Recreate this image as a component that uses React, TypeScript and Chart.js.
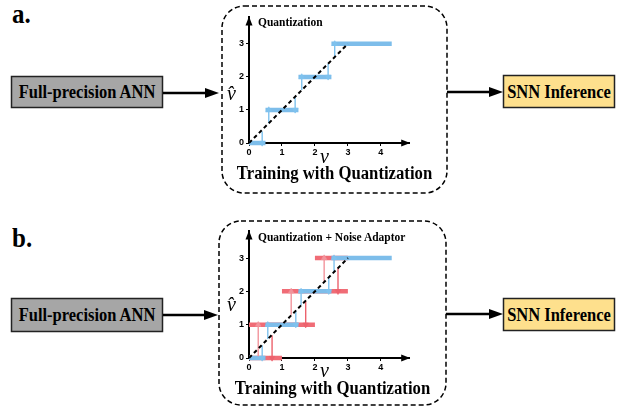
import React, { useEffect, useRef } from "react";
import { Chart, registerables } from "chart.js";

Chart.register(...registerables);

// ---------- data ----------
const xTicks = [0, 1, 2, 3, 4];
const yTicks = [0, 1, 2, 3];
const xMax = 4.86;
const yMax = 3.8;
const diagonal = [
  { x: 0, y: 0 },
  { x: 3, y: 3 },
];
// [level, from x, to x]
const blueSteps = [
  [0, 0, 0.5],
  [1, 0.5, 1.5],
  [2, 1.5, 2.5],
  [3, 2.5, 4.33],
];
const redSteps = [
  [0, 0, 1],
  [1, 0, 2],
  [2, 1, 3],
  [3, 2, 3],
];
// [x, from y, to y]
const blueArrowsA = [
  [0.4, 0.35, 0],
  [0.6, 0.6, 1],
  [1.4, 1.4, 1],
  [1.6, 1.6, 2],
  [2.4, 2.4, 2],
  [2.6, 2.6, 3],
];
const blueArrowsB = [
  [0.4, 0.38, 0],
  [0.57, 0.57, 1],
  [1.42, 1.42, 1],
  [1.58, 1.58, 2],
  [2.42, 2.42, 2],
  [2.58, 2.58, 3],
];
const redUpArrowsB = [
  [0.28, 0.05, 1],
  [1.28, 1.3, 2],
  [2.28, 2.3, 3],
];
const redDownArrowsB = [
  [0.7, 0.68, 0],
  [1.72, 1.7, 1],
  [2.7, 2.7, 2],
];

const titleA = "Quantization";
const titleB = "Quantization +  Noise Adaptor";
const bottomTitle = "Training with Quantization";
const leftLabel = "Full-precision ANN";
const rightLabel = "SNN Inference";

// ---------- colours ----------
const BLUE = "#7dbdea";
const BLUE_ARROW = "#7fc2ee";
const RED = "#f06c76";
const RED_UP = "#f2949c";
const RED_DOWN = "#ec626d";

function stepDs(s: number[], color: string, order: number) {
  return {
    data: [
      { x: s[1], y: s[0] },
      { x: s[2], y: s[0] },
    ],
    borderColor: color,
    backgroundColor: color,
    borderWidth: 4.5,
    borderCapStyle: "butt",
    pointRadius: 0,
    clip: false,
    order,
  };
}

function arrowDs(a: number[], color: string) {
  const up = a[2] > a[1];
  return {
    data: [
      { x: a[0], y: a[1] },
      { x: a[0], y: a[2] },
    ],
    borderColor: color,
    backgroundColor: color,
    borderWidth: 1.4,
    pointRadius: [0, 3.2],
    pointHoverRadius: 0,
    pointStyle: "triangle",
    pointRotation: up ? 0 : 180,
    pointBackgroundColor: color,
    pointBorderColor: color,
    pointBorderWidth: 0.6,
    clip: false,
    order: 1,
  };
}

function diagDs() {
  return {
    data: diagonal,
    borderColor: "#000",
    borderWidth: 2,
    borderDash: [4, 3],
    pointRadius: 0,
    clip: false,
    order: 0,
  };
}

const axisArrows = {
  id: "axisArrows",
  afterDraw(chart: any) {
    const { ctx, chartArea } = chart;
    const { left, top, right, bottom } = chartArea;
    ctx.save();
    ctx.fillStyle = "#000";
    ctx.beginPath();
    ctx.moveTo(left, top - 1);
    ctx.lineTo(left - 3.5, top + 8);
    ctx.lineTo(left + 3.5, top + 8);
    ctx.closePath();
    ctx.fill();
    ctx.beginPath();
    ctx.moveTo(right + 1, bottom);
    ctx.lineTo(right - 8, bottom - 3.5);
    ctx.lineTo(right - 8, bottom + 3.5);
    ctx.closePath();
    ctx.fill();
    ctx.restore();
  },
};

const tickFont = { family: "'Liberation Sans', Arial, sans-serif", size: 9, weight: "bold" as const };

function makeOptions() {
  return {
    animation: false,
    responsive: false,
    maintainAspectRatio: false,
    events: [],
    layout: { padding: 0 },
    plugins: { legend: { display: false }, tooltip: { enabled: false } },
    scales: {
      x: {
        type: "linear",
        min: 0,
        max: xMax,
        afterBuildTicks: (s: any) => {
          s.ticks = xTicks.map((v) => ({ value: v }));
        },
        afterFit: (s: any) => {
          s.height = 20;
        },
        ticks: { font: tickFont, color: "#000", padding: 1, maxRotation: 0, autoSkip: false },
        grid: { drawOnChartArea: false, tickLength: 3, color: "#000", lineWidth: 1 },
        border: { color: "#000", width: 2 },
      },
      y: {
        type: "linear",
        min: 0,
        max: yMax,
        afterBuildTicks: (s: any) => {
          s.ticks = yTicks.map((v) => ({ value: v }));
        },
        afterFit: (s: any) => {
          s.width = 20;
        },
        ticks: { font: tickFont, color: "#000", padding: 2, autoSkip: false },
        grid: { drawOnChartArea: false, tickLength: 3, color: "#000", lineWidth: 1 },
        border: { color: "#000", width: 2 },
      },
    },
  };
}

function Plot({ datasets, left, top, width, height }: any) {
  const ref = useRef<HTMLCanvasElement>(null);
  useEffect(() => {
    const chart = new Chart(ref.current as HTMLCanvasElement, {
      type: "line",
      data: { datasets },
      options: makeOptions() as any,
      plugins: [axisArrows],
    } as any);
    return () => chart.destroy();
  }, []);
  return (
    <div style={{ position: "absolute", left, top, width, height }}>
      <canvas ref={ref} width={width} height={height} style={{ width, height, display: "block" }} />
    </div>
  );
}

const serif = "'Liberation Serif', 'Times New Roman', serif";

function Txt({ children, left, top, size, width, align, italic, bold = true, stretch = 1 }: any) {
  return (
    <div
      style={{
        position: "absolute",
        left,
        top,
        width,
        textAlign: align || "left",
        fontFamily: serif,
        fontSize: size,
        lineHeight: `${size}px`,
        fontWeight: bold ? "bold" : "normal",
        fontStyle: italic ? "italic" : "normal",
        whiteSpace: "nowrap",
        color: "#000",
        transform: stretch !== 1 ? `scaleY(${stretch})` : undefined,
        transformOrigin: "50% 80%",
      }}
    >
      {children}
    </div>
  );
}

export default function App() {
  const dsA = [
    diagDs(),
    ...blueArrowsA.map((a) => arrowDs(a, BLUE_ARROW)),
    ...blueSteps.map((s) => stepDs(s, BLUE, 2)),
  ];
  const dsB = [
    diagDs(),
    ...blueArrowsB.map((a) => arrowDs(a, BLUE_ARROW)),
    ...redUpArrowsB.map((a) => arrowDs(a, RED_UP)),
    ...redDownArrowsB.map((a) => arrowDs(a, RED_DOWN)),
    ...blueSteps.map((s) => stepDs(s, BLUE, 2)),
    ...redSteps.map((s) => stepDs(s, RED, 3)),
  ];
  return (
    <div
      style={{
        position: "fixed",
        left: 0,
        top: 0,
        width: 621,
        height: 408,
        background: "#fff",
        overflow: "hidden",
      }}
    >
      <svg width={621} height={408} style={{ position: "absolute", left: 0, top: 0 }}>
        {/* dashed boxes */}
        <rect x={222} y={6} width={225} height={187} rx={22} fill="none" stroke="#000" strokeWidth={1.5} strokeDasharray="5 3" />
        <rect x={219} y={221} width={227} height={184} rx={22} fill="none" stroke="#000" strokeWidth={1.5} strokeDasharray="5 3" />
        {/* left boxes */}
        <rect x={11.5} y={76.5} width={151} height={31} fill="#a6a6a6" stroke="#222" strokeWidth={1.5} />
        <rect x={11.5} y={298.5} width={151} height={33} fill="#a6a6a6" stroke="#222" strokeWidth={1.5} />
        {/* right boxes */}
        <rect x={503.5} y={75.5} width={111} height={32} fill="#fee08d" stroke="#222" strokeWidth={1.5} />
        <rect x={503.5} y={298.5} width={111} height={32} fill="#fee08d" stroke="#222" strokeWidth={1.5} />
        {/* arrows a */}
        <line x1={163} y1={93} x2={208} y2={93} stroke="#000" strokeWidth={2.5} />
        <polygon points="205,88 219,93 205,98" fill="#000" />
        <line x1={447} y1={92} x2={491} y2={92} stroke="#000" strokeWidth={2.5} />
        <polygon points="489,87 503,92 489,97" fill="#000" />
        {/* arrows b */}
        <line x1={163} y1={315} x2={206} y2={315} stroke="#000" strokeWidth={2.5} />
        <polygon points="204,310 218,315 204,320" fill="#000" />
        <line x1={446} y1={314} x2={491} y2={314} stroke="#000" strokeWidth={2.5} />
        <polygon points="489,309 503,314 489,319" fill="#000" />
      </svg>

      <Txt left={12} top={2} size={25} stretch={1.08}>a.</Txt>
      <Txt left={12} top={226} size={25} stretch={1.08}>b.</Txt>

      <Txt left={11} top={85} size={16.5} width={152} align="center" stretch={1.1}>{leftLabel}</Txt>
      <Txt left={11} top={308} size={16.5} width={152} align="center" stretch={1.1}>{leftLabel}</Txt>
      <Txt left={503} top={85} size={16.5} width={112} align="center" stretch={1.1}>{rightLabel}</Txt>
      <Txt left={503} top={308} size={16.5} width={112} align="center" stretch={1.1}>{rightLabel}</Txt>

      <Plot datasets={dsA} left={229} top={10} width={184} height={153} />
      <Plot datasets={dsB} left={229} top={224} width={184} height={154} />

      <Txt left={258} top={17} size={11.5} stretch={1.1}>{titleA}</Txt>
      <Txt left={258} top={232} size={11.5} stretch={1.1}>{titleB}</Txt>

      <Txt left={222} top={166} size={16.7} width={225} align="center" stretch={1.1}>{bottomTitle}</Txt>
      <Txt left={219} top={381} size={16.7} width={227} align="center" stretch={1.1}>{bottomTitle}</Txt>

      <Txt left={227} top={83} size={20} italic bold={false}>{"v\u0302"}</Txt>
      <Txt left={227} top={294} size={20} italic bold={false}>{"v\u0302"}</Txt>
      <Txt left={320} top={146} size={20} italic bold={false}>v</Txt>
      <Txt left={320} top={360} size={20} italic bold={false}>v</Txt>
    </div>
  );
}
